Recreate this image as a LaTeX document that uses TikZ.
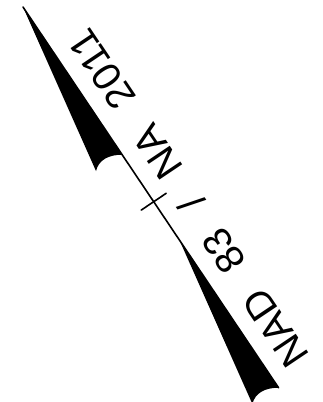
\documentclass[tikz,border=0pt]{standalone}
\usepackage{fontspec}
\newfontfamily\lblfont[WordSpace=2.6]{Liberation Sans}
\begin{document}
\begin{tikzpicture}[x=1pt,y=-1pt]
\tikzset{
  wedge/.pic={\fill (0,0) -- (99.2,147.8) .. controls (86,147.5) and (75.5,153) .. (73,164) -- cycle;},
  axisline/.style={line width=1.6pt, line cap=round},
  lbl/.style={font=\lblfont\fontsize{40}{40}\selectfont, rotate=123.9, inner sep=0pt,
    text height=27.5pt, text depth=0pt, anchor=center}
}
\useasboundingbox (0,0) rectangle (323,402);
\coordinate (T1) at (23,7);
\coordinate (T2) at (179.4,240);
\coordinate (E) at (278.6,387.8);
\coordinate (C) at (153.7,201.7);
\begin{scope}
\clip (0,0) rectangle (323,402);
\pic at (T1) {wedge};
\pic at (T2) {wedge};
\end{scope}
\draw[axisline] (T1) -- (E);
\draw[axisline] (C) ++(-12.5,8.4) -- ++(25,-16.8);
\node[lbl] (label) at (188.7,198.4) {NAD 83 / NA 2011};
\end{tikzpicture}
\end{document}
